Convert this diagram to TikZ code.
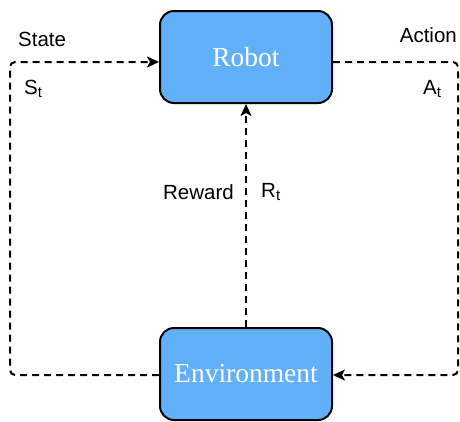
\documentclass[tikz,border=0pt]{standalone}
\usepackage{fontspec}
\setmainfont{Liberation Serif}
\setsansfont{Liberation Sans}
\usetikzlibrary{arrows.meta}
\definecolor{boxblue}{RGB}{99,176,250}
\tikzset{
  block/.style={draw=black, line width=2pt, fill=boxblue, rounded corners=14pt,
    minimum width=172pt, minimum height=92pt, inner sep=0pt,
    text=white, font=\fontsize{27.5}{30}\selectfont},
  flow/.style={draw=black, line width=2pt, dash pattern=on 7pt off 5pt,
    -{Stealth[length=12pt,width=11pt,inset=3pt]}},
  lbl/.style={font=\sffamily\fontsize{20.5}{24}\selectfont, inner sep=0pt}
}
\newcommand{\lowt}{\raisebox{-0.35ex}{\fontsize{15}{18}\selectfont t}}
\begin{document}
\begin{tikzpicture}[x=1pt,y=-1pt]
  \useasboundingbox (0,0) rectangle (460,421);
  % agent and environment blocks
  \node[block] (robot) at (246,57) {Robot};
  \node[block] (env) at (246,374) {Environment};
  % loop corners
  \coordinate (lb) at (10,375);
  \coordinate (lt) at (10,62);
  \coordinate (rt) at (458,62);
  \coordinate (rb) at (458,375);
  % state feedback
  \draw[flow, rounded corners=5pt] (env.west |- lb) -- (lb) -- (lt) -- (robot.west |- lt);
  % action
  \draw[flow, rounded corners=5pt] (robot.east |- rt) -- (rt) -- (rb) -- (env.east |- rb);
  % reward
  \draw[flow] (env.north) -- (robot.south);
  % labels
  \node[lbl, anchor=west] (state) at (18,39) {State};
  \node[lbl, anchor=west] (st) at (24,89) {S\lowt};
  \node[lbl, anchor=east] (action) at (457,35) {Action};
  \node[lbl, anchor=west] (at) at (423,89) {A\lowt};
  \node[lbl, anchor=east] (reward) at (234,192) {Reward};
  \node[lbl, anchor=west] (rt2) at (261,192) {R\lowt};
\end{tikzpicture}
\end{document}
